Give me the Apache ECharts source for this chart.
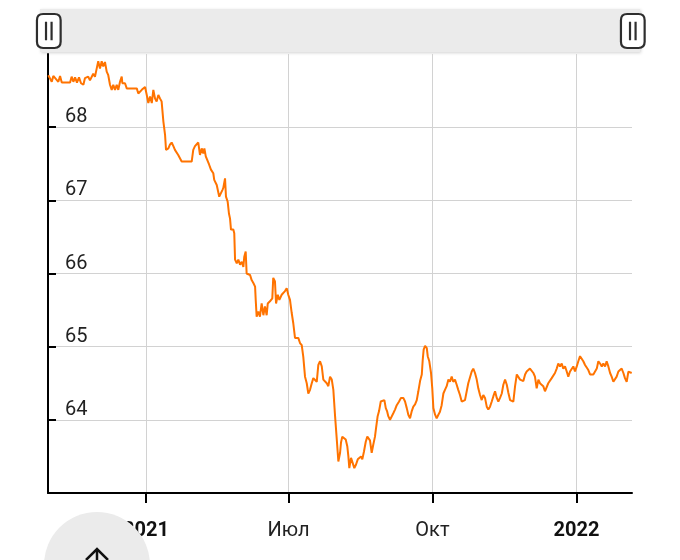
<!DOCTYPE html>
<html>
<head>
<meta charset="utf-8">
<script src="https://cdn.jsdelivr.net/npm/echarts@6/dist/echarts.min.js"></script>
<style>
html,body{margin:0;padding:0;background:#fff;}
#chart{width:680px;height:560px;}
</style>
</head>
<body>
<div id="chart"></div>
<script>
// Series start (day 0) and axis span in days
const startDate = Date.UTC(2021, 0, 28, 9, 36);
const spanDays = 373.1;

// Day offsets from startDate
const days = [
0.2,2.4,3.4,4.5,6.6,7.7,8.8,14.1,15.1,16.2,17.3,18.5,19.8,21.1,22.6,23.6,25.7,26.8,28.9,30.0,31.1,32.1,33.2,34.3,35.3,36.4,37.5,38.5,39.6,40.7,41.7,42.8,43.9,44.9,46.0,47.1,47.5,49.2,50.3,56.7,57.7,58.8,59.9,60.9,62.0,63.1,64.1,65.2,66.3,67.3,68.4,69.4,70.5,71.6,72.6,73.7,74.8,75.4,76.9,77.9,79.0,80.1,81.1,82.2,83.2,85.4,91.8,
92.8,93.9,96.0,97.1,98.2,99.2,99.9,100.8,102.0,102.9,104.1,105.6,106.2,107.8,108.8,109.4,110.5,111.4,112.0,113.1,113.7,114.8,115.6,116.3,116.9,118.4,119.0,119.5,120.6,121.6,122.7,123.8,124.8,125.4,126.3,126.9,129.1,130.1,131.2,132.3,132.7,133.3,134.4,135.4,136.5,137.6,138.6,139.7,140.4,141.8,143.3,143.9,145.0,145.7,146.8,147.8,149.3,150.3,151.4,152.5,153.5,154.6,155.7,156.7,157.8,158.9,159.9,161.0,162.1,163.1,164.2,165.3,166.3,167.4,168.5,169.5,170.6,171.7,172.7,173.8,174.9,175.9,177.0,178.1,179.1,180.2,181.3,182.3,
183.4,184.5,185.1,185.5,186.6,187.2,188.0,189.1,190.2,191.2,191.9,192.5,193.6,194.7,195.7,196.8,197.9,198.9,200.0,200.8,201.9,203.0,204.0,205.1,205.7,206.8,207.8,208.9,209.6,210.6,211.5,212.6,213.2,214.9,215.8,216.6,217.4,218.5,219.6,220.6,221.7,222.8,224.3,225.5,227.0,228.1,229.2,230.2,231.3,232.4,233.4,234.5,235.6,236.6,237.7,238.8,239.4,240.0,240.9,242.0,242.6,243.6,244.7,245.5,246.2,247.3,248.3,249.4,250.4,251.5,252.6,253.6,254.7,255.8,256.8,257.9,258.9,260.0,261.1,262.1,263.2,264.3,265.3,
266.4,268.5,270.7,271.7,272.8,273.9,274.9,276.0,277.1,278.1,279.2,280.3,281.3,282.4,283.5,284.5,285.6,286.7,287.7,288.8,289.9,290.9,292.0,293.1,294.1,295.2,297.3,298.4,299.5,300.5,301.6,302.6,303.7,304.8,305.8,306.9,307.9,309.0,310.1,311.1,312.2,313.3,314.3,315.4,316.4,317.5,318.6,319.6,320.7,321.8,322.8,323.9,325.0,326.0,327.1,328.2,329.2,330.3,331.4,332.4,333.5,334.6,335.6,336.7,337.8,338.8,339.9,341.0,342.0,343.1,344.2,345.2,346.3,347.4,348.4,349.5,350.6,351.6,352.7,353.8,354.8,355.9,356.9,358.0,359.1,360.1,361.2,362.3,363.3,364.4,365.4,366.5,367.6,368.6,369.7,370.8,371.8,372.9
];

// Values
const values = [
68.71,68.62,68.70,68.69,68.62,68.70,68.61,68.61,68.69,68.62,68.68,68.61,68.68,68.60,68.58,68.67,68.69,68.64,68.73,68.69,68.80,68.90,68.80,68.90,68.83,68.89,68.76,68.71,68.58,68.51,68.58,68.51,68.58,68.51,68.62,68.69,68.60,68.60,68.53,68.53,68.46,68.44,68.51,68.53,68.55,68.44,68.33,68.42,68.33,68.51,68.39,68.35,68.44,68.39,68.35,68.08,67.89,67.69,67.71,67.76,67.79,67.74,67.69,67.67,67.62,67.53,67.53,
67.69,67.74,67.79,67.62,67.71,67.64,67.71,67.60,67.58,67.49,67.42,67.37,67.28,67.21,67.19,67.05,67.03,67.14,67.17,67.30,67.05,66.98,66.82,66.75,66.60,66.60,66.55,66.19,66.14,66.19,66.12,66.16,66.09,66.23,66.30,66.00,65.98,65.91,65.87,65.82,65.64,65.41,65.48,65.41,65.59,65.43,65.55,65.43,65.59,65.62,65.66,65.94,65.89,65.59,65.71,65.64,65.71,65.69,65.76,65.80,65.71,65.64,65.46,65.32,65.12,65.10,65.12,65.05,65.02,64.86,64.59,64.50,64.36,64.41,64.50,64.57,64.59,64.52,64.75,64.80,64.73,64.55,64.57,64.50,64.46,64.59,64.55,64.41,
64.05,63.73,63.55,63.43,63.55,63.69,63.77,63.79,63.73,63.64,63.50,63.34,63.48,63.48,63.34,63.39,63.46,63.44,63.50,63.46,63.57,63.70,63.77,63.79,63.72,63.55,63.66,63.77,63.89,64.05,64.12,64.25,64.27,64.27,64.16,64.12,64.05,64.00,64.02,64.09,64.14,64.20,64.25,64.30,64.30,64.25,64.16,64.07,64.02,64.12,64.18,64.21,64.27,64.39,64.53,64.62,64.82,64.96,65.01,64.98,64.87,64.80,64.64,64.43,64.16,64.07,64.02,64.07,64.11,64.20,64.36,64.41,64.46,64.55,64.52,64.59,64.52,64.55,64.48,64.41,64.34,64.25,64.23,
64.27,64.50,64.66,64.70,64.64,64.55,64.43,64.34,64.27,64.34,64.30,64.18,64.14,64.18,64.25,64.32,64.39,64.30,64.25,64.30,64.36,64.48,64.55,64.48,64.37,64.27,64.25,64.46,64.62,64.64,64.55,64.57,64.53,64.62,64.66,64.64,64.70,64.68,64.64,64.59,64.43,64.55,64.50,64.48,64.46,64.39,64.41,64.50,64.52,64.57,64.59,64.64,64.70,64.77,64.73,64.77,64.70,64.73,64.66,64.59,64.66,64.68,64.73,64.66,64.73,64.80,64.87,64.89,64.80,64.75,64.73,64.68,64.62,64.62,64.62,64.64,64.70,64.80,64.77,64.73,64.77,64.73,64.80,64.73,64.64,64.59,64.52,64.50,64.59,64.66,64.68,64.70,64.64,64.57,64.52,64.66,64.68,64.64
];

// X-axis ticks and their labels
const tickDates = [Date.UTC(2021, 3, 1), Date.UTC(2021, 6, 1), Date.UTC(2021, 9, 1), Date.UTC(2022, 0, 1)];
const tickLabels = ['2021', 'Июл', 'Окт', '2022'];
const tickBold = [true, false, false, true];

// Y-axis range
const yMin = 63, yMax = 69, yStep = 1;

const DAY = 86400000;
const tickDays = tickDates.map(t => (t - startDate) / DAY);
const seriesData = days.map((d, i) => [d, values[i]]);

const chart = echarts.init(document.getElementById('chart'), null, {renderer: 'canvas'});
const FONT = 'Roboto, "Noto Sans", sans-serif';

const handlePath = 'path://M6 0 L17 0 Q23 0 23 6 L23 27 Q23 33 17 33 L6 33 Q0 33 0 27 L0 6 Q0 0 6 0 Z M8.8 7.5 L8.8 25.5 M14.2 7.5 L14.2 25.5';

function labelFor(val) {
  for (let i = 0; i < tickDays.length; i++) {
    if (Math.abs(tickDays[i] - val) < 1e-6) {
      return tickBold[i] ? '{b|' + tickLabels[i] + '}' : tickLabels[i];
    }
  }
  return '';
}

chart.setOption({
  animation: false,
  backgroundColor: '#ffffff',
  grid: {left: 48, right: 48, top: 54, bottom: 67, containLabel: false},
  xAxis: {
    type: 'value',
    min: 0,
    max: spanDays,
    axisLine: {show: true, onZero: false, lineStyle: {color: '#000', width: 2}},
    axisTick: {show: true, length: 10, customValues: tickDays, lineStyle: {color: '#000', width: 2}},
    axisLabel: {
      customValues: tickDays,
      margin: 28,
      fontSize: 20,
      color: '#222',
      fontFamily: FONT,
      formatter: labelFor,
      rich: {b: {fontSize: 20, fontWeight: 'bold', color: '#111', fontFamily: FONT}}
    },
    splitLine: {show: true, lineStyle: {color: '#d2d2d2', width: 1}}
  },
  yAxis: {
    type: 'value',
    min: yMin,
    max: yMax,
    interval: yStep,
    axisLine: {show: true, lineStyle: {color: '#000', width: 2}},
    axisTick: {show: true, inside: true, length: 8, lineStyle: {color: '#000', width: 2}},
    axisLabel: {
      inside: true,
      margin: 17,
      fontSize: 20,
      color: '#222',
      fontFamily: FONT,
      verticalAlign: 'bottom',
      padding: [0, 0, 0, 0],
      showMinLabel: false,
      showMaxLabel: false
    },
    splitLine: {show: true, showMinLine: false, showMaxLine: false, lineStyle: {color: '#d2d2d2', width: 1}}
  },
  dataZoom: [{
    type: 'slider',
    xAxisIndex: 0,
    filterMode: 'none',
    start: 0,
    end: 100,
    left: 46,
    right: 48,
    top: 10,
    height: 42,
    backgroundColor: 'rgba(0,0,0,0)',
    fillerColor: 'rgba(0,0,0,0)',
    borderColor: 'rgba(0,0,0,0)',
    showDetail: false,
    showDataShadow: false,
    brushSelect: false,
    moveHandleSize: 0,
    moveHandleStyle: {opacity: 0},
    dataBackground: {lineStyle: {opacity: 0}, areaStyle: {opacity: 0}},
    selectedDataBackground: {lineStyle: {opacity: 0}, areaStyle: {opacity: 0}},
    handleIcon: handlePath,
    handleSize: 34,
    handleStyle: {color: '#ffffff', borderColor: '#2e2e2e', borderWidth: 2.2}
  }],
  graphic: [
    {
      type: 'rect', z: -1, silent: true,
      shape: {x: 40, y: 9, width: 600, height: 43},
      style: {fill: '#ebebeb', shadowBlur: 3, shadowOffsetX: 1, shadowOffsetY: 1, shadowColor: 'rgba(0,0,0,0.18)'}
    },
    {
      type: 'circle', z: 100, silent: true,
      shape: {cx: 97, cy: 565, r: 53},
      style: {fill: '#ebebeb'}
    },
    {
      type: 'polyline', z: 101, silent: true,
      shape: {points: [[86, 560], [97, 549], [108, 560]]},
      style: {stroke: '#111', lineWidth: 2.5, fill: null}
    },
    {
      type: 'line', z: 101, silent: true,
      shape: {x1: 97, y1: 549, x2: 97, y2: 580},
      style: {stroke: '#111', lineWidth: 2.5}
    }
  ],
  series: [{
    type: 'line',
    data: seriesData,
    showSymbol: false,
    symbol: 'none',
    smooth: false,
    lineStyle: {color: '#ff7300', width: 2},
    itemStyle: {color: '#ff7300'}
  }]
});
</script>
</body>
</html>
